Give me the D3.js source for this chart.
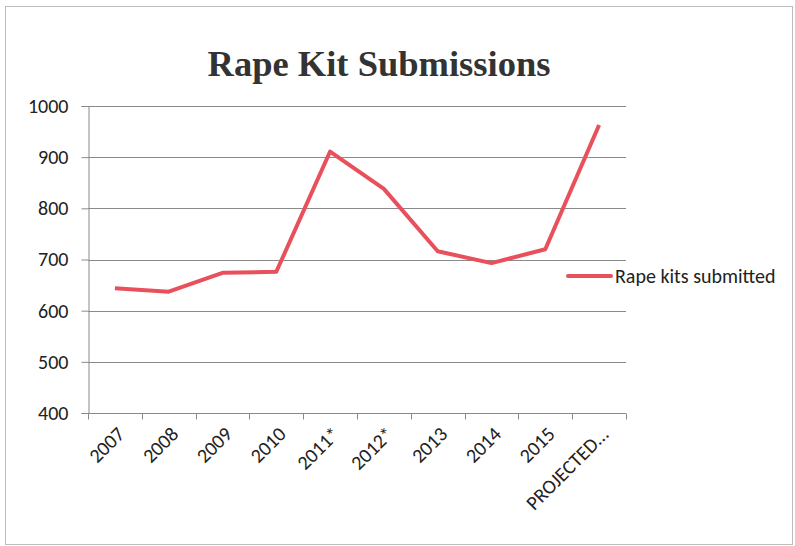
<!DOCTYPE html>
<html>
<head>
<meta charset="utf-8">
<script src="https://cdn.jsdelivr.net/npm/d3@7"></script>
<style>
  body { margin: 0; background: #fff; }
  svg { display: block; }
</style>
</head>
<body>
<div class="chart"></div>
<script>
// data
const years = ["2007", "2008", "2009", "2010", "2011*", "2012*", "2013", "2014", "2015", "PROJECTED..."];
const kits = [644, 637, 674, 676, 911, 838, 716, 693, 720, 963];
const yTicks = [400, 500, 600, 700, 800, 900, 1000];
const seriesName = "Rape kits submitted";

const W = 795, H = 546;
const margin = { top: 106, right: 169, bottom: 133, left: 88 };
const width = W - margin.left - margin.right;
const height = H - margin.top - margin.bottom;
const red = "#e8505b";
const grid = "#8a8a8a";
const labelFont = "Carlito, 'Open Sans', sans-serif";

const svg = d3.select("div.chart")
    .append("svg")
    .attr("width", W)
    .attr("height", H);

// outer frame
svg.append("rect")
    .attr("x", 5.5).attr("y", 6.5)
    .attr("width", W - 8).attr("height", H - 8)
    .attr("fill", "none")
    .attr("stroke", "#bdbdbd");

svg.append("text")
    .attr("x", 379)
    .attr("y", 76)
    .attr("text-anchor", "middle")
    .attr("font-family", "'Liberation Serif', 'Times New Roman', serif")
    .attr("font-weight", "bold")
    .attr("font-size", 36.5)
    .attr("fill", "#333")
    .text("Rape Kit Submissions");

const g = svg.append("g")
    .attr("transform", `translate(${margin.left},${margin.top})`);

const x = d3.scaleBand()
    .domain(years)
    .range([0, width]);

const y = d3.scaleLinear()
    .domain([400, 1000])
    .range([height, 0]);

// gridlines
g.append("g")
    .selectAll("line")
    .data(yTicks.filter(d => d > 400))
    .join("line")
        .attr("x1", 0)
        .attr("x2", width)
        .attr("y1", d => Math.round(y(d)) + 0.5)
        .attr("y2", d => Math.round(y(d)) + 0.5)
        .attr("stroke", grid);

// y axis
const yAxis = d3.axisLeft(y).tickValues(yTicks).tickFormat(d3.format("d")).tickSize(7).tickPadding(13);
g.append("g")
    .attr("transform", "translate(0.5,0)")
    .call(yAxis)
    .call(a => a.select(".domain").attr("stroke", grid))
    .call(a => a.selectAll(".tick line").attr("stroke", grid))
    .call(a => a.selectAll(".tick text")
        .attr("font-family", labelFont)
        .attr("font-size", 20)
        .attr("fill", "#222"));

// x axis: ticks at band boundaries
const xAxisG = g.append("g")
    .attr("transform", `translate(0,${Math.round(height) + 0.5})`);
xAxisG.append("line")
    .attr("x1", 0).attr("x2", width)
    .attr("stroke", grid);
xAxisG.selectAll("line.tk")
    .data(years.concat(["end"]))
    .join("line")
        .attr("class", "tk")
        .attr("x1", (d, i) => Math.round(i * x.step()) + 0.5)
        .attr("x2", (d, i) => Math.round(i * x.step()) + 0.5)
        .attr("y1", 0)
        .attr("y2", 6)
        .attr("stroke", grid);
xAxisG.selectAll("text")
    .data(years)
    .join("text")
        .attr("transform", d => `translate(${x(d) + x.bandwidth() / 2 + 1},${12}) rotate(-45)`)
        .attr("text-anchor", "end")
        .attr("dy", "0.7em")
        .attr("font-family", labelFont)
        .attr("font-size", 20)
        .attr("fill", "#222")
        .text(d => d);

// line
const line = d3.line()
    .x((d, i) => x(years[i]) + x.bandwidth() / 2)
    .y(d => y(d));

g.append("path")
    .datum(kits)
    .attr("d", line)
    .attr("fill", "none")
    .attr("stroke", red)
    .attr("stroke-width", 4)
    .attr("stroke-linejoin", "round");

// legend
const legend = svg.append("g")
    .attr("transform", "translate(568,276)");
legend.append("line")
    .attr("x1", 0).attr("x2", 43)
    .attr("stroke", red)
    .attr("stroke-width", 4)
    .attr("stroke-linecap", "round");
legend.append("text")
    .attr("x", 47)
    .attr("dy", "0.35em")
    .attr("font-family", labelFont)
    .attr("font-size", 20)
    .attr("fill", "#222")
    .text(seriesName);
</script>
</body>
</html>
